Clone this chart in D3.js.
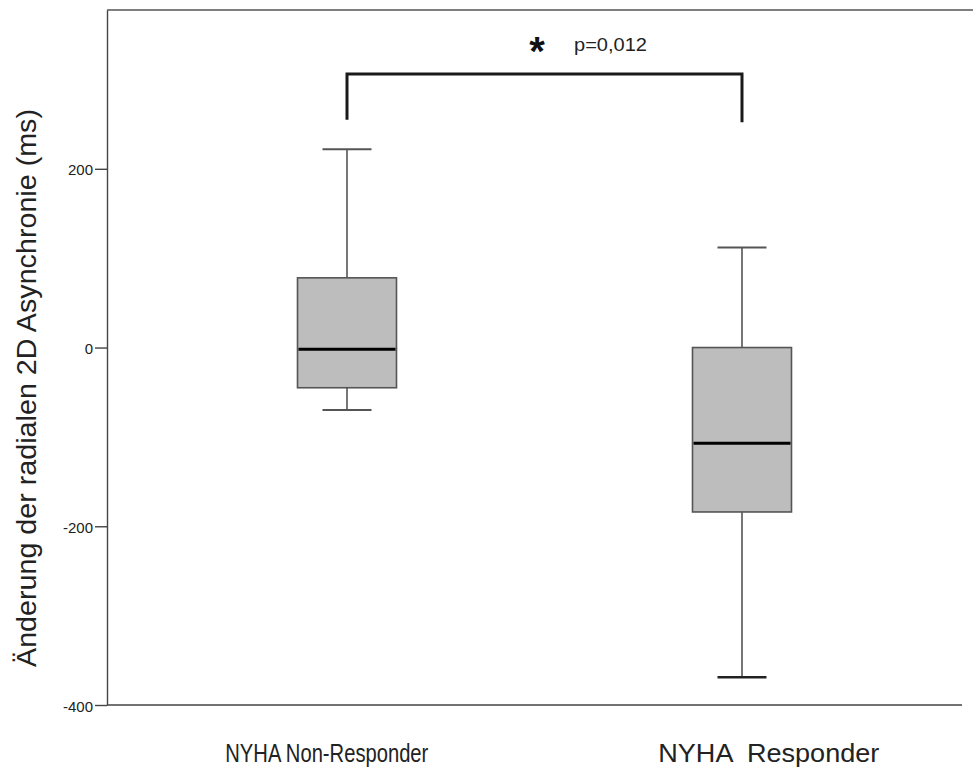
<!DOCTYPE html>
<html>
<head>
<meta charset="utf-8">
<script src="https://cdn.jsdelivr.net/npm/d3@7"></script>
<style>
  html, body { margin: 0; padding: 0; background: #fff; }
  svg { display: block; }
</style>
</head>
<body>
<svg id="chart" width="973" height="769"></svg>
<script>
// Groups and box-plot summaries (ms)
const categories = ["NYHA Non-Responder", "NYHA  Responder"];
const whiskerHigh = [222, 112];
const upperQuartile = [78, 0];
const medians = [-2, -107];
const lowerQuartile = [-45, -184];
const whiskerLow = [-70, -369];

const yTicks = [-400, -200, 0, 200];
const yTitle = "Änderung der radialen 2D Asynchronie (ms)";

// Significance bracket between the two groups
const bracketTop = 306;
const bracketEnds = [255, 252];
const pLabel = "p=0,012";
const starLabel = "*";

const W = 973, H = 769;
const margin = { left: 107, top: 10, right: 0, bottom: 64 };

const svg = d3.select("#chart");

const y = d3.scaleLinear()
  .domain([-400, 377.7])
  .range([H - margin.bottom, margin.top]);

const x = d3.scalePoint()
  .domain(categories)
  .range([margin.left, 982])
  .padding(0.6076);

const axisColor = "#444";
const font = "'Liberation Sans', Arial, sans-serif";

// frame: top border and bottom axis line
svg.append("line")
  .attr("x1", margin.left).attr("x2", W)
  .attr("y1", y.range()[1]).attr("y2", y.range()[1])
  .attr("stroke", "#555").attr("stroke-width", 1.4);

svg.append("line")
  .attr("x1", margin.left).attr("x2", 962)
  .attr("y1", y(-400)).attr("y2", y(-400))
  .attr("stroke", axisColor).attr("stroke-width", 1.4);

// y axis
const yAxis = svg.append("g")
  .attr("transform", `translate(${margin.left},0)`)
  .call(d3.axisLeft(y)
    .tickValues(yTicks)
    .tickSizeInner(12)
    .tickSizeOuter(0)
    .tickPadding(2)
    .tickFormat(d => String(d)));
yAxis.select(".domain").attr("stroke", axisColor).attr("stroke-width", 1.4);
yAxis.selectAll(".tick line").attr("stroke", axisColor).attr("stroke-width", 1.4);
yAxis.selectAll(".tick text")
  .attr("font-family", font).attr("font-size", 15).attr("fill", "#222")
  .attr("dy", "0.4em");

// y title
svg.append("text")
  .attr("transform", `translate(36,388) rotate(-90)`)
  .attr("text-anchor", "middle")
  .attr("font-family", font).attr("font-size", 27).attr("fill", "#222")
  .attr("textLength", 558).attr("lengthAdjust", "spacingAndGlyphs")
  .text(yTitle);

// category labels
const labelOffsets = [-121.7, -83.7];
const labelWidths = [203, 221];
svg.selectAll("text.cat")
  .data(categories)
  .join("text")
  .attr("class", "cat")
  .attr("x", (d, i) => x(d) + labelOffsets[i])
  .attr("y", 762)
  .attr("font-family", font).attr("font-size", 25).attr("fill", "#222")
  .attr("textLength", (d, i) => labelWidths[i]).attr("lengthAdjust", "spacingAndGlyphs")
  .style("white-space", "pre")
  .attr("xml:space", "preserve")
  .text(d => d);

// box plots
const boxW = 99, capW = 49;
const stats = categories.map((c, i) => ({
  c, hi: whiskerHigh[i], q3: upperQuartile[i], med: medians[i], q1: lowerQuartile[i], lo: whiskerLow[i]
}));

const g = svg.append("g");
const groups = g.selectAll("g.box").data(stats).join("g").attr("class", "box");

groups.append("line")
  .attr("x1", d => x(d.c)).attr("x2", d => x(d.c))
  .attr("y1", d => y(d.hi)).attr("y2", d => y(d.q3))
  .attr("stroke", "#555").attr("stroke-width", 1.6);
groups.append("line")
  .attr("x1", d => x(d.c)).attr("x2", d => x(d.c))
  .attr("y1", d => y(d.q1)).attr("y2", d => y(d.lo))
  .attr("stroke", "#555").attr("stroke-width", 1.6);
groups.append("line")
  .attr("x1", d => x(d.c) - capW / 2).attr("x2", d => x(d.c) + capW / 2)
  .attr("y1", d => y(d.hi)).attr("y2", d => y(d.hi))
  .attr("stroke", "#555").attr("stroke-width", 2);
groups.append("line")
  .attr("x1", d => x(d.c) - capW / 2).attr("x2", d => x(d.c) + capW / 2)
  .attr("y1", d => y(d.lo)).attr("y2", d => y(d.lo))
  .attr("stroke", (d, i) => i === 1 ? "#222" : "#555").attr("stroke-width", (d, i) => i === 1 ? 2.6 : 2);
groups.append("rect")
  .attr("x", d => x(d.c) - boxW / 2).attr("width", boxW)
  .attr("y", d => y(d.q3)).attr("height", d => y(d.q1) - y(d.q3))
  .attr("fill", "#bdbdbd").attr("stroke", "#555").attr("stroke-width", 1.6);
groups.append("line")
  .attr("x1", d => x(d.c) - boxW / 2 + 1).attr("x2", d => x(d.c) + boxW / 2 - 1)
  .attr("y1", d => y(d.med)).attr("y2", d => y(d.med))
  .attr("stroke", "#000").attr("stroke-width", 3);

// significance bracket
const bx = categories.map(c => x(c));
const bracketPath = d3.path();
bracketPath.moveTo(bx[0], y(bracketEnds[0]));
bracketPath.lineTo(bx[0], y(bracketTop));
bracketPath.lineTo(bx[1], y(bracketTop));
bracketPath.lineTo(bx[1], y(bracketEnds[1]));
svg.append("path")
  .attr("d", bracketPath.toString())
  .attr("fill", "none").attr("stroke", "#1a1a1a").attr("stroke-width", 3)
  .attr("stroke-linejoin", "miter");

svg.append("text")
  .attr("x", 537).attr("y", 65)
  .attr("text-anchor", "middle")
  .attr("font-family", font).attr("font-weight", "bold").attr("font-size", 40).attr("fill", "#111")
  .text(starLabel);

svg.append("text")
  .attr("x", 574).attr("y", 51)
  .attr("font-family", font).attr("font-size", 19).attr("fill", "#222")
  .attr("textLength", 73).attr("lengthAdjust", "spacingAndGlyphs")
  .text(pLabel);
</script>
</body>
</html>
